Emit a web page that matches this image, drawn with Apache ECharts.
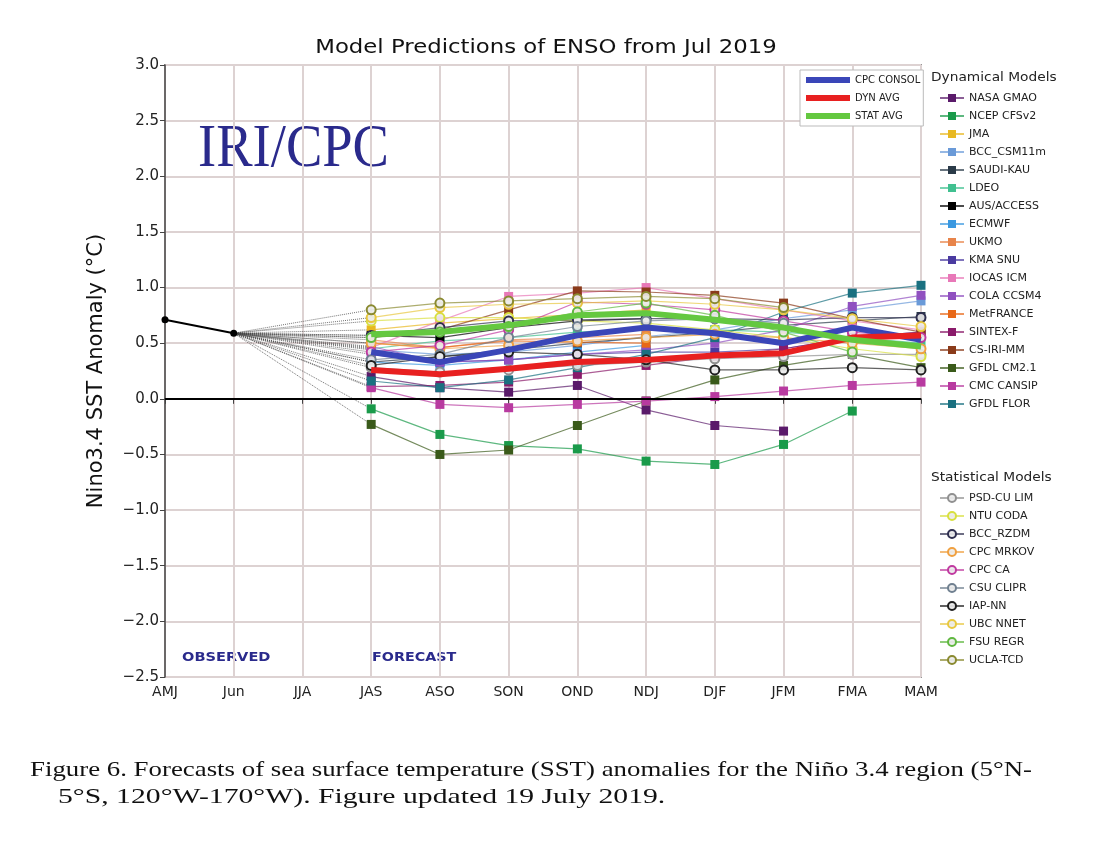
<!DOCTYPE html>
<html><head><meta charset="utf-8">
<script src="https://cdn.jsdelivr.net/npm/echarts@6/dist/echarts.min.js"></script>
<style>html,body{margin:0;padding:0;background:#fff}#c{width:1115px;height:864px}</style>
</head><body><div id="c"></div>
<script>
// ---------- DATA ----------
const categories = ['AMJ','Jun','JJA','JAS','ASO','SON','OND','NDJ','DJF','JFM','FMA','MAM'];
const observed = [0.71, 0.59];
// forecasts: JAS, ASO, SON, OND, NDJ, DJF, JFM, FMA, MAM
const cpcConsol = [0.42, 0.33, 0.44, 0.57, 0.64, 0.59, 0.50, 0.64, 0.53];
const dynAvg    = [0.26, 0.22, 0.27, 0.33, 0.35, 0.39, 0.41, 0.55, 0.57];
const statAvg   = [0.58, 0.60, 0.66, 0.75, 0.77, 0.71, 0.64, 0.53, 0.47];

const nasaGmao  = [0.20, 0.10, 0.06, 0.12, -0.10, -0.24, -0.29, null, null];
const ncepCfsv2 = [-0.09, -0.32, -0.42, -0.45, -0.56, -0.59, -0.41, -0.11, null];
const jma       = [0.62, 0.68, 0.72, 0.76, 0.80, null, null, null, null];
const bccCsm11m = [0.44, 0.40, 0.42, 0.48, 0.56, 0.62, 0.72, 0.80, 0.88];
const saudiKau  = [0.33, 0.38, 0.44, 0.50, 0.55, 0.60, 0.66, 0.70, 0.74];
const ldeo      = [0.45, 0.52, 0.55, 0.60, 0.63, 0.62, 0.60, 0.55, 0.50];
const ausAccess = [0.57, 0.55, 0.64, 0.70, 0.72, null, null, null, null];
const ecmwf     = [0.33, 0.30, 0.35, 0.42, 0.48, null, null, null, null];
const ukmo      = [0.53, 0.46, 0.53, 0.55, 0.58, null, null, null, null];
const kmaSnu    = [0.40, 0.33, 0.35, 0.40, 0.42, 0.42, 0.45, 0.55, 0.60];
const iocasIcm  = [0.46, 0.70, 0.92, 0.95, 1.00, 0.90, 0.80, 0.70, 0.62];
const colaCcsm4 = [0.47, 0.33, 0.35, 0.40, 0.44, 0.50, 0.62, 0.83, 0.93];
const metFrance = [0.50, 0.46, 0.52, 0.51, 0.50, null, null, null, null];
const sintexF   = [0.11, 0.12, 0.15, 0.22, 0.30, 0.38, 0.45, 0.55, 0.60];
const csIriMm   = [0.55, 0.62, 0.80, 0.97, 0.96, 0.93, 0.86, 0.72, 0.60];
const gfdlCm21  = [-0.23, -0.50, -0.46, -0.24, -0.02, 0.17, 0.30, 0.40, 0.28];
const cmcCansip = [0.10, -0.05, -0.08, -0.05, -0.02, 0.02, 0.07, 0.12, 0.15];
const gfdlFlor  = [0.16, 0.10, 0.17, 0.28, 0.40, 0.55, 0.78, 0.95, 1.02];

const psdCuLim  = [0.28, 0.24, 0.26, 0.30, 0.33, 0.36, 0.38, 0.40, 0.40];
const ntuCoda   = [0.70, 0.73, 0.73, 0.70, 0.68, 0.62, 0.55, 0.45, 0.38];
const bccRzdm   = [0.57, 0.64, 0.70, 0.71, 0.72, 0.72, 0.71, 0.73, 0.73];
const cpcMrkov  = [0.50, 0.45, 0.48, 0.52, 0.55, 0.58, 0.55, 0.50, 0.45];
const cpcCa     = [0.42, 0.48, 0.62, 0.87, 0.85, 0.80, 0.70, 0.60, 0.55];
const csuClipr  = [0.35, 0.40, 0.55, 0.65, 0.70, 0.72, 0.68, null, null];
const iapNn     = [0.30, 0.38, 0.42, 0.40, 0.35, 0.26, 0.26, 0.28, 0.26];
const ubcNnet   = [0.73, 0.82, 0.85, 0.86, 0.88, 0.85, 0.80, 0.72, 0.65];
const fsuRegr   = [0.55, 0.60, 0.65, 0.78, 0.86, 0.75, 0.60, 0.42, null];
const uclaTcd   = [0.80, 0.86, 0.88, 0.90, 0.92, 0.90, 0.82, null, null];

const dynNames = ['NASA GMAO','NCEP CFSv2','JMA','BCC_CSM11m','SAUDI-KAU','LDEO','AUS/ACCESS','ECMWF','UKMO','KMA SNU','IOCAS ICM','COLA CCSM4','MetFRANCE','SINTEX-F','CS-IRI-MM','GFDL CM2.1','CMC CANSIP','GFDL FLOR'];
const dynData = [nasaGmao,ncepCfsv2,jma,bccCsm11m,saudiKau,ldeo,ausAccess,ecmwf,ukmo,kmaSnu,iocasIcm,colaCcsm4,metFrance,sintexF,csIriMm,gfdlCm21,cmcCansip,gfdlFlor];
const dynColors = ['#5a1a6a','#1a9a4a','#e8b820','#6a9ad8','#2a3a48','#40c090','#000000','#3a98e0','#e8844a','#4a3aa0','#e878b8','#9050c0','#e86818','#8a1a6a','#8a3a1a','#3a5a1a','#b83aa0','#1a7080'];

const statNames = ['PSD-CU LIM','NTU CODA','BCC_RZDM','CPC MRKOV','CPC CA','CSU CLIPR','IAP-NN','UBC NNET','FSU REGR','UCLA-TCD'];
const statData = [psdCuLim,ntuCoda,bccRzdm,cpcMrkov,cpcCa,csuClipr,iapNn,ubcNnet,fsuRegr,uclaTcd];
const statColors = ['#909090','#d8e040','#303050','#f0a040','#c03aa0','#708090','#202020','#e8c840','#60b840','#8a8a30'];

const avgNames = ['CPC CONSOL','DYN AVG','STAT AVG'];
const avgData = [cpcConsol, dynAvg, statAvg];
const avgColors = ['#3a46b8','#e82020','#64c840'];

// ---------- BUILD ----------
const lead = [null, null, null];
function full(arr){ return lead.concat(arr); }
function connector(arr){
  const d = categories.map(()=>null);
  d[1] = observed[1]; d[3] = arr[0];
  return d;
}
const series = [];
series.push({
  name:'Observed', type:'line', data: observed.concat(categories.slice(2).map(()=>null)),
  symbol:'circle', symbolSize:7, itemStyle:{color:'#000'}, lineStyle:{color:'#000',width:2}, z:6,
  markLine:{silent:true, symbol:'none', label:{show:false}, lineStyle:{color:'#000',width:2,type:'solid'}, data:[{yAxis:0}]}
});
function addConnectors(list){
  list.forEach(arr=>{
    series.push({type:'line', data:connector(arr), connectNulls:true, symbol:'none', silent:true,
      lineStyle:{color:'#444', width:1, type:'dotted', opacity:0.75}, z:2});
  });
}
addConnectors(dynData); addConnectors(statData);
dynNames.forEach((n,i)=>{
  series.push({name:n, type:'line', data:full(dynData[i]), symbol:'rect', symbolSize:9,
    itemStyle:{color:dynColors[i]}, lineStyle:{color:dynColors[i], width:1.2, opacity:0.7}, z:3});
});
statNames.forEach((n,i)=>{
  series.push({name:n, type:'line', data:full(statData[i]), symbol:'circle', symbolSize:9,
    itemStyle:{color:'rgba(235,235,235,0.9)', borderColor:statColors[i], borderWidth:2},
    lineStyle:{color:statColors[i], width:1.2, opacity:0.7}, z:3});
});
avgNames.forEach((n,i)=>{
  series.push({name:n, type:'line', data:full(avgData[i]), symbol:'none', itemStyle:{color:avgColors[i]},
    lineStyle:{color:avgColors[i],width:6}, z:5});
});

const chart = echarts.init(document.getElementById('c'));
const font = 'DejaVu Sans';
chart.setOption({
  animation:false,
  backgroundColor:'#fff',
  textStyle:{fontFamily:font},
  grid:{left:165, right:194, top:65, bottom:187, show:true, borderColor:'#444', borderWidth:1.5},
  xAxis:{type:'category', data:categories, boundaryGap:false,
    axisLine:{lineStyle:{color:'#444',width:1.5}}, axisTick:{show:true, alignWithLabel:true, lineStyle:{color:'#444'}},
    axisLabel:{fontFamily:font, fontSize:14, color:'#222', margin:8, interval:0},
    splitLine:{show:true, lineStyle:{color:'#ddd2d2', width:2}}},
  yAxis:{type:'value', min:-2.5, max:3.0, interval:0.5,
    name:'Nino3.4 SST Anomaly (°C)', nameLocation:'middle', nameGap:58, nameRotate:90,
    nameTextStyle:{fontFamily:font, fontSize:21, color:'#111'},
    axisLine:{show:true, lineStyle:{color:'#444',width:1.5}}, axisTick:{show:true, lineStyle:{color:'#444'}},
    axisLabel:{fontFamily:font, fontSize:15, color:'#222', margin:6,
      formatter:v=>v.toFixed(1).replace('-','\u2212')},
    splitLine:{show:true, lineStyle:{color:'#ddd2d2', width:2}}},
  legend:[
    {data:avgNames, orient:'vertical', left:800, top:70, itemGap:6, icon:'rect',
      itemWidth:44, itemHeight:6, selectedMode:false, borderColor:'#bbb', borderWidth:1, padding:[4,3,4,6],
      backgroundColor:'#fff', textStyle:{fontFamily:font, fontSize:10, color:'#222', lineHeight:12}},
    {data:dynNames, orient:'vertical', left:934, top:87, itemGap:6, itemWidth:24, itemHeight:10, selectedMode:false,
      textStyle:{fontFamily:font, fontSize:11, color:'#222', lineHeight:12}},
    {data:statNames, orient:'vertical', left:934, top:487, itemGap:6, itemWidth:24, itemHeight:10, selectedMode:false,
      textStyle:{fontFamily:font, fontSize:11, color:'#222', lineHeight:12}}
  ],
  graphic:[
    {type:'text', x:546, y:39, scaleX:1.2, style:{text:'Model Predictions of ENSO from Jul 2019', textAlign:'center', font:'19px "DejaVu Sans"', fill:'#111'}},
    {type:'text', x:198, y:119, scaleX:0.88, style:{text:'IRI/CPC', font:'62px "Liberation Serif", "DejaVu Serif", serif', fill:'#2a2a8c'}},
    {type:'text', x:182, y:651, scaleX:1.12, style:{text:'OBSERVED', font:'bold 13px "DejaVu Sans"', fill:'#2a2a8c'}},
    {type:'text', x:372, y:651, scaleX:1.1, style:{text:'FORECAST', font:'bold 13px "DejaVu Sans"', fill:'#2a2a8c'}},
    {type:'text', x:931, y:71, scaleX:1.1, style:{text:'Dynamical Models', font:'12.5px "DejaVu Sans"', fill:'#222'}},
    {type:'text', x:931, y:471, scaleX:1.1, style:{text:'Statistical Models', font:'12.5px "DejaVu Sans"', fill:'#222'}},
    {type:'text', x:30, y:759, scaleX:1.22, style:{text:'Figure 6. Forecasts of sea surface temperature (SST) anomalies for the Niño 3.4 region (5°N-', font:'22px "Liberation Serif", serif', fill:'#111'}},
    {type:'text', x:58, y:786, scaleX:1.35, style:{text:'5°S, 120°W-170°W). Figure updated 19 July 2019.', font:'22px "Liberation Serif", serif', fill:'#111'}}
  ],
  series:series
});
</script></body></html>
